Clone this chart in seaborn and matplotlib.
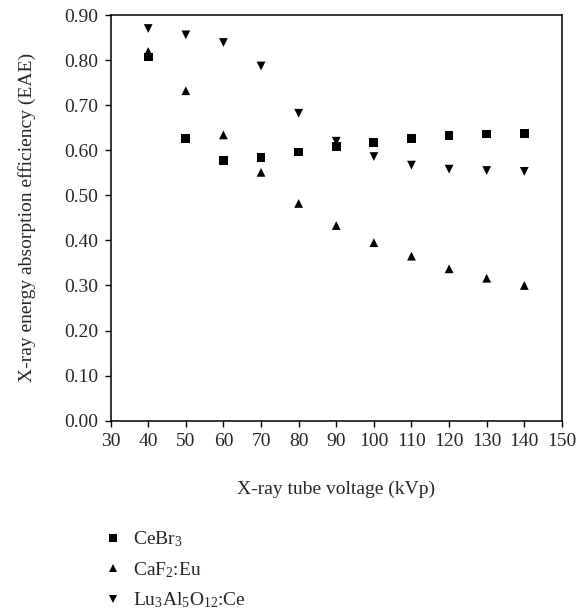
import matplotlib
matplotlib.use("Agg")
import matplotlib.pyplot as plt
import seaborn as sns
import pandas as pd

# tube voltages (kVp)
voltage = [40, 50, 60, 70, 80, 90, 100, 110, 120, 130, 140]

# X-ray energy absorption efficiency for each scintillator
cebr3 = [0.807, 0.626, 0.578, 0.584, 0.596, 0.609, 0.618, 0.626, 0.633, 0.636, 0.637]
caf2 = [0.819, 0.732, 0.634, 0.551, 0.482, 0.433, 0.395, 0.365, 0.337, 0.316, 0.300]
luag = [0.870, 0.856, 0.839, 0.787, 0.682, 0.620, 0.586, 0.567, 0.558, 0.555, 0.553]

names = ["CeBr$_3$", "CaF$_2$:Eu", "Lu$_3$Al$_5$O$_{12}$:Ce"]
xticks = list(range(30, 151, 10))
yticks = [i / 10 for i in range(0, 10)]

sns.set_theme(style="ticks")
plt.rcParams["font.family"] = ["Liberation Serif", "DejaVu Serif"]
plt.rcParams["mathtext.fontset"] = "custom"
plt.rcParams["mathtext.rm"] = "Liberation Serif"
plt.rcParams["mathtext.default"] = "regular"

# long form table for seaborn
df = pd.concat([
    pd.DataFrame({"kVp": voltage, "EAE": vals, "material": name})
    for name, vals in zip(names, [cebr3, caf2, luag])
])

fig = plt.figure(figsize=(5.79, 6.13), dpi=100)
ax = fig.add_axes([0.191, 0.3137, 0.7795, 0.6618])

sns.scatterplot(data=df, x="kVp", y="EAE", style="material",
                markers={names[0]: "s", names[1]: "^", names[2]: "v"},
                color="black", s=40, edgecolor="black", linewidth=0,
                ax=ax, legend=True)

ax.set_xlim(30, 150)
ax.set_ylim(0, 0.9)
ax.set_xticks(xticks)
ax.set_yticks(yticks)
ax.set_yticklabels([f"{v:.2f}" for v in yticks])
ax.tick_params(labelsize=14, length=4, width=1, color="black", pad=5)
for s in ax.spines.values():
    s.set_color("black")
    s.set_linewidth(1.1)

ax.set_xlabel("X-ray tube voltage (kVp)", fontsize=14, labelpad=22)
ax.set_ylabel("X-ray energy absorption efficiency (EAE)", fontsize=14, labelpad=20)

handles, labels = ax.get_legend_handles_labels()
for h in handles:
    h.set_markersize(5.5)
    h.set_markeredgewidth(0)
ax.legend(handles, labels, loc="upper left", bbox_to_anchor=(0.168, 0.152),
          bbox_transform=fig.transFigure, frameon=False, fontsize=14,
          borderpad=0, handlelength=0.6, handletextpad=0.75,
          labelspacing=0.55)

fig.savefig("out.png", dpi=100)
